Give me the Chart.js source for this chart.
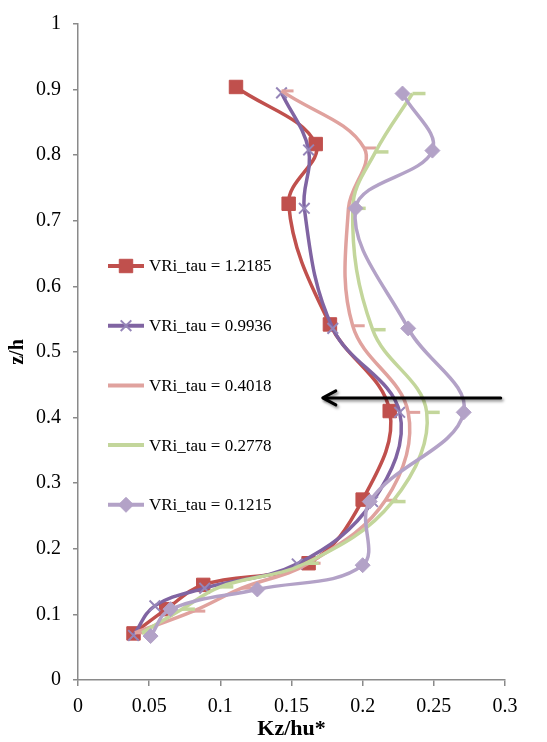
<!DOCTYPE html>
<html><head><meta charset="utf-8">
<script src="https://cdn.jsdelivr.net/npm/chart.js@4/dist/chart.umd.min.js"></script>
<style>html,body{margin:0;padding:0;background:#fff}#wrap{width:547px;height:742px;position:relative}</style>
</head><body><div id="wrap"><canvas id="c" width="547" height="742"></canvas></div>
<script>
// ---- data ----
const seriesNames = ['VRi_tau = 1.2185','VRi_tau = 0.9936','VRi_tau = 0.4018','VRi_tau = 0.2778','VRi_tau = 0.1215'];
const kzRed      = [0.039, 0.062, 0.088, 0.162, 0.200, 0.219, 0.177, 0.148, 0.167, 0.111];
const zRed       = [0.071, 0.108, 0.145, 0.178, 0.275, 0.410, 0.542, 0.726, 0.817, 0.904];
const kzPurple   = [0.039, 0.054, 0.089, 0.154, 0.207, 0.226, 0.179, 0.159, 0.162, 0.143];
const zPurple    = [0.068, 0.113, 0.140, 0.177, 0.272, 0.408, 0.536, 0.719, 0.808, 0.895];
const kzPink     = [0.040, 0.081, 0.115, 0.162, 0.216, 0.232, 0.193, 0.190, 0.201, 0.143];
const zPink      = [0.072, 0.105, 0.140, 0.178, 0.274, 0.408, 0.540, 0.719, 0.811, 0.898];
const kzGreen    = [0.045, 0.073, 0.100, 0.160, 0.221, 0.245, 0.207, 0.193, 0.209, 0.235];
const zGreen     = [0.072, 0.108, 0.142, 0.178, 0.272, 0.408, 0.534, 0.719, 0.805, 0.894];
const kzLavender = [0.051, 0.065, 0.126, 0.200, 0.205, 0.271, 0.232, 0.195, 0.249, 0.228];
const zLavender  = [0.067, 0.108, 0.138, 0.175, 0.272, 0.408, 0.536, 0.719, 0.807, 0.894];
const xTickValues = [0, 0.05, 0.1, 0.15, 0.2, 0.25, 0.3];
const yTickValues = [0, 0.1, 0.2, 0.3, 0.4, 0.5, 0.6, 0.7, 0.8, 0.9, 1];
const arrowZ = 0.43;
const arrowKz = [0.297, 0.172]; // tail, head
const xTitle = 'Kz/hu*';
const yTitle = 'z/h';

const colors = ['#C0504D','#8064A2','#E0A29E','#C3D69B','#B3A2C7'];
const markerColors = ['#C0504D','#9585B8','#E0A29E','#C3D69B','#B3A2C7'];
const styles = ['rect','crossRot','dash','dash','rectRot'];
const radii = [9.5, 7.5, 12, 13, 7.5];
const markerBorder = [1, 2, 3, 3.5, 1];
const xs = [kzRed,kzPurple,kzPink,kzGreen,kzLavender];
const zs = [zRed,zPurple,zPink,zGreen,zLavender];

const FONT = "'Liberation Serif','Times New Roman',serif";
Chart.defaults.font.family = FONT;
Chart.defaults.font.size = 20;
Chart.defaults.color = '#000';

const datasets = seriesNames.map((n,i)=>({
  label: n,
  data: xs[i].map((v,j)=>({x:v, y:zs[i][j]})),
  showLine: true,
  borderColor: colors[i],
  backgroundColor: markerColors[i],
  pointBorderColor: markerColors[i],
  pointBackgroundColor: markerColors[i],
  borderWidth: 3.5,
  tension: 0.38,
  pointStyle: styles[i],
  pointRadius: radii[i],
  pointBorderWidth: markerBorder[i],
  order: 4 - i
}));

const arrowPlugin = {
  id:'arrow',
  afterDatasetsDraw(chart){
    const ctx = chart.ctx, xs_ = chart.scales.x, ys_ = chart.scales.y;
    const y = ys_.getPixelForValue(arrowZ);
    const x1 = xs_.getPixelForValue(arrowKz[0]);
    const x2 = xs_.getPixelForValue(arrowKz[1]);
    ctx.save();
    ctx.shadowColor = 'rgba(0,0,0,0.45)';
    ctx.shadowBlur = 3; ctx.shadowOffsetX = 1.5; ctx.shadowOffsetY = 2;
    ctx.strokeStyle = '#000'; ctx.lineWidth = 3; ctx.lineCap='round'; ctx.lineJoin='round';
    ctx.beginPath(); ctx.moveTo(x1,y); ctx.lineTo(x2+1,y); ctx.stroke();
    ctx.beginPath(); ctx.moveTo(x2+13,y-7); ctx.lineTo(x2,y); ctx.lineTo(x2+13,y+7); ctx.stroke();
    ctx.restore();
  }
};

const legendPlugin = {
  id:'customLegend',
  afterDraw(chart){
    const ctx = chart.ctx;
    ctx.save();
    seriesNames.forEach((n,i)=>{
      const y = 266 + i*59.7;
      ctx.strokeStyle = colors[i]; ctx.lineWidth = 4; ctx.lineCap='butt';
      ctx.beginPath(); ctx.moveTo(108,y); ctx.lineTo(144,y); ctx.stroke();
      if (i===0 || i===1 || i===4) {
        ctx.fillStyle = markerColors[i]; ctx.strokeStyle = markerColors[i];
        ctx.lineWidth = markerBorder[i];
        Chart.helpers.drawPoint(ctx, {pointStyle: styles[i], radius: radii[i], rotation:0, borderWidth: markerBorder[i]}, 126, y);
      }
      ctx.fillStyle = '#000'; ctx.font = '17px ' + FONT; ctx.textBaseline='middle'; ctx.textAlign='left';
      ctx.fillText(n, 149, y+1);
    });
    ctx.restore();
  }
};

new Chart(document.getElementById('c'), {
  type:'scatter',
  data:{datasets},
  options:{
    responsive:false, animation:false, devicePixelRatio:1,
    layout:{padding:{top:12,right:42,left:0,bottom:0}},
    plugins:{legend:{display:false}, tooltip:{enabled:false}},
    scales:{
      x:{
        type:'linear', min:0, max:0.3,
        afterFit(s){ s.height = 62; },
        afterBuildTicks(s){ s.ticks = xTickValues.map(v=>({value:v})); },
        ticks:{ callback:(v)=>String(+v.toFixed(2)), padding:9, maxRotation:0, autoSkip:false, font:{size:20} },
        grid:{ drawOnChartArea:false, drawTicks:true, tickLength:6, color:'#8a8a8a', lineWidth:1.5 },
        border:{ color:'#8a8a8a', width:1.5 },
        title:{ display:true, text:xTitle, font:{size:22, weight:'bold'}, padding:{top:0,bottom:-1} }
      },
      y:{
        type:'linear', min:0, max:1,
        afterFit(s){ s.width = 78; },
        afterBuildTicks(s){ s.ticks = yTickValues.map(v=>({value:v})); },
        ticks:{ callback:(v)=>String(+v.toFixed(1)), padding:12, autoSkip:false, font:{size:20} },
        grid:{ drawOnChartArea:false, drawTicks:true, tickLength:5, color:'#8a8a8a', lineWidth:1.5 },
        border:{ color:'#8a8a8a', width:1.5 },
        title:{ display:true, text:yTitle, font:{size:20, weight:'bold'}, padding:{top:6,bottom:0} }
      }
    }
  },
  plugins:[arrowPlugin, legendPlugin]
});
</script></body></html>
